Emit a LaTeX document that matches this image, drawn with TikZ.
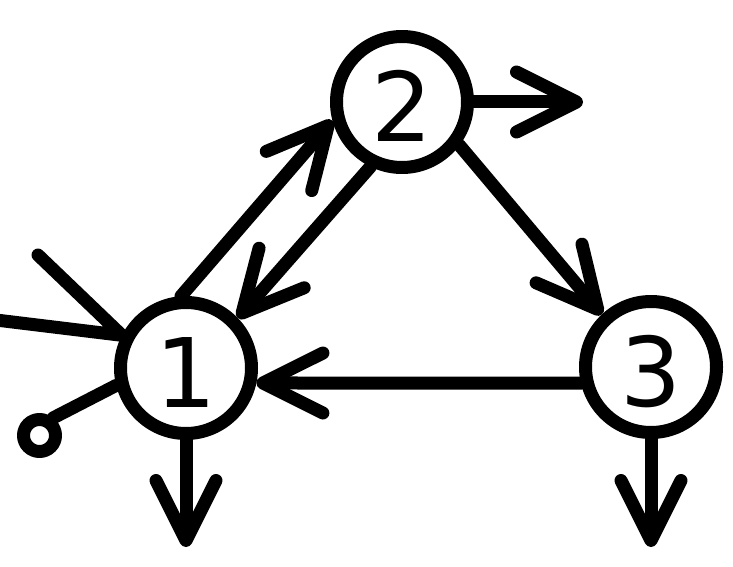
\documentclass[tikz,border=0pt]{standalone}
\usepackage{fontspec}
\setmainfont{DejaVu Sans}
\usetikzlibrary{arrows.meta}
\begin{document}
\begin{tikzpicture}[x=1pt,y=-1pt,
  line width=13pt, line cap=round, line join=round,
  state/.style={circle, draw, minimum size=131pt, inner sep=0pt,
    font=\fontsize{96}{96}\selectfont, text height=78pt, text depth=0pt},
  probe/.style={circle, draw, minimum size=32pt, inner sep=0pt},
  flow/.style={-{Straight Barb[length=60pt,width=60pt,round]}},
]
\useasboundingbox (0,0) rectangle (733,567);
\node[state] (n1) at (186,368) {1};
\node[state] (n2) at (402,102) {2};
\node[state] (n3) at (651,367) {3};
\node[probe] (p) at (39.5,435.5) {};
\coordinate (o1) at (186,547);
\coordinate (o2) at (583,102);
\coordinate (o3) at (651,547);
\coordinate (va) at (38,255);
\coordinate (vb) at (-4,320);
\coordinate (v) at (n1.153.4);
% connectors
\draw[flow] (n3.193.6) -- (n1.-12.8);
\draw[flow] (n1.94) -- (n2.195.7);
\draw[flow] (n2.244.8) -- (n1.44.6);
\draw[flow] (n2.-37.8) -- (n3.133.4);
\draw[flow] (n2.0) -- (o2);
\draw[flow] (n1.south) -- (o1);
\draw[flow] (n3.south) -- (o3);
\draw (n1.194.6) -- (p.52);
\draw (va) -- (v) -- (vb);
\end{tikzpicture}
\end{document}
